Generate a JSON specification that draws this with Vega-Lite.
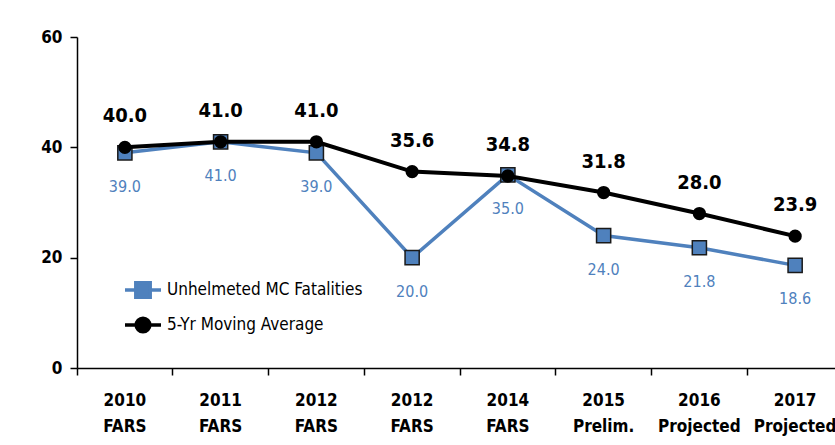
{
  "$schema": "https://vega.github.io/schema/vega-lite/v6.json",
  "width": 758,
  "height": 331,
  "autosize": {"type": "none"},
  "padding": {"left": 77, "top": 37, "right": 0, "bottom": 77},
  "background": "white",
  "config": {"view": {"stroke": null}, "font": "DejaVu Sans Condensed, Open Sans"},
  "data": {
    "values": [
      {"cat": "2010|FARS", "series": "Unhelmeted MC Fatalities", "value": 39.0},
      {"cat": "2011|FARS", "series": "Unhelmeted MC Fatalities", "value": 41.0},
      {"cat": "2012|FARS", "series": "Unhelmeted MC Fatalities", "value": 39.0},
      {"cat": "2012|FARS ", "series": "Unhelmeted MC Fatalities", "value": 20.0},
      {"cat": "2014|FARS", "series": "Unhelmeted MC Fatalities", "value": 35.0},
      {"cat": "2015|Prelim.", "series": "Unhelmeted MC Fatalities", "value": 24.0},
      {"cat": "2016|Projected", "series": "Unhelmeted MC Fatalities", "value": 21.8},
      {"cat": "2017|Projected", "series": "Unhelmeted MC Fatalities", "value": 18.6},
      {"cat": "2010|FARS", "series": "5-Yr Moving Average", "value": 40.0},
      {"cat": "2011|FARS", "series": "5-Yr Moving Average", "value": 41.0},
      {"cat": "2012|FARS", "series": "5-Yr Moving Average", "value": 41.0},
      {"cat": "2012|FARS ", "series": "5-Yr Moving Average", "value": 35.6},
      {"cat": "2014|FARS", "series": "5-Yr Moving Average", "value": 34.8},
      {"cat": "2015|Prelim.", "series": "5-Yr Moving Average", "value": 31.8},
      {"cat": "2016|Projected", "series": "5-Yr Moving Average", "value": 28.0},
      {"cat": "2017|Projected", "series": "5-Yr Moving Average", "value": 23.9}
    ]
  },
  "encoding": {
    "x": {
      "field": "cat",
      "type": "ordinal",
      "sort": null,
      "scale": {"type": "band", "range": [0, 766], "paddingInner": 0, "paddingOuter": 0},
      "axis": {
        "title": null,
        "labelExpr": "split(trim(datum.value), '|')",
        "labelAngle": 0,
        "labelFont": "DejaVu Sans Condensed, Open Sans",
        "labelFontSize": 17,
        "labelFontWeight": "bold",
        "labelColor": "black",
        "labelPadding": 17,
        "labelLineHeight": 26,
        "tickSize": 7,
        "tickColor": "black",
        "tickWidth": 1.5,
        "domainColor": "black",
        "domainWidth": 1.5,
        "bandPosition": 0,
        "grid": false
      }
    },
    "y": {
      "field": "value",
      "type": "quantitative",
      "scale": {"domain": [0, 60]},
      "axis": {
        "title": null,
        "values": [0, 20, 40, 60],
        "grid": false,
        "tickSize": 7,
        "tickColor": "black",
        "tickWidth": 1.5,
        "domainColor": "black",
        "domainWidth": 1.5,
        "labelFont": "DejaVu Sans Condensed, Open Sans",
        "labelFontSize": 17,
        "labelFontWeight": "bold",
        "labelColor": "black",
        "labelPadding": 8
      }
    }
  },
  "layer": [
    {
      "transform": [{"filter": "datum.series === 'Unhelmeted MC Fatalities'"}],
      "mark": {"type": "line", "strokeWidth": 3.5},
      "encoding": {
        "color": {
          "field": "series",
          "type": "nominal",
          "scale": {"domain": ["Unhelmeted MC Fatalities", "5-Yr Moving Average"], "range": ["#4f81bd", "#000000"]},
          "legend": {
            "orient": "none",
            "legendX": 46,
            "legendY": 233,
            "title": null,
            "padding": 0,
            "labelFont": "DejaVu Sans Condensed, Open Sans",
            "labelFontSize": 17,
            "labelColor": "black",
            "labelOffset": 4,
            "labelLimit": 0,
            "symbolSize": 1296,
            "symbolStrokeWidth": 3.5,
            "rowPadding": -1,
            "encode": {
              "symbols": {
                "update": {
                  "shape": {"signal": "datum.value === 'Unhelmeted MC Fatalities' ? 'M-1,0H-0.4M0.4,0H1M-0.4,-0.4H0.4V0.4H-0.4Z' : 'M-1,0H-0.38M0.38,0H1M0.38,0A0.38,0.38 0 1,1 -0.38,0A0.38,0.38 0 1,1 0.38,0Z'"},
                  "fill": {"signal": "datum.value === 'Unhelmeted MC Fatalities' ? '#4f81bd' : '#000000'"},
                  "stroke": {"signal": "datum.value === 'Unhelmeted MC Fatalities' ? '#4f81bd' : '#000000'"},
                  "strokeWidth": {"value": 3.5}
                }
              }
            }
          }
        }
      }
    },
    {
      "transform": [{"filter": "datum.series === 'Unhelmeted MC Fatalities'"}],
      "mark": {"type": "point", "shape": "square", "filled": true, "size": 200, "stroke": "#1a1a1a", "strokeWidth": 1.5, "opacity": 1},
      "encoding": {"color": {"field": "series", "type": "nominal"}}
    },
    {
      "transform": [{"filter": "datum.series === '5-Yr Moving Average'"}],
      "mark": {"type": "line", "strokeWidth": 4},
      "encoding": {"color": {"field": "series", "type": "nominal"}}
    },
    {
      "transform": [{"filter": "datum.series === '5-Yr Moving Average'"}],
      "mark": {"type": "point", "shape": "circle", "filled": true, "size": 177, "opacity": 1},
      "encoding": {"color": {"field": "series", "type": "nominal"}}
    },
    {
      "transform": [{"filter": "datum.series === '5-Yr Moving Average'"}],
      "mark": {"type": "text", "dy": -31, "font": "DejaVu Sans Condensed, Open Sans", "fontSize": 20, "fontWeight": "bold", "color": "#000000"},
      "encoding": {"text": {"field": "value", "type": "quantitative", "format": ".1f"}}
    },
    {
      "transform": [{"filter": "datum.series === 'Unhelmeted MC Fatalities'"}],
      "mark": {"type": "text", "dy": 34, "font": "DejaVu Sans Condensed, Open Sans", "fontSize": 16, "color": "#4f81bd"},
      "encoding": {"text": {"field": "value", "type": "quantitative", "format": ".1f"}}
    }
  ]
}
